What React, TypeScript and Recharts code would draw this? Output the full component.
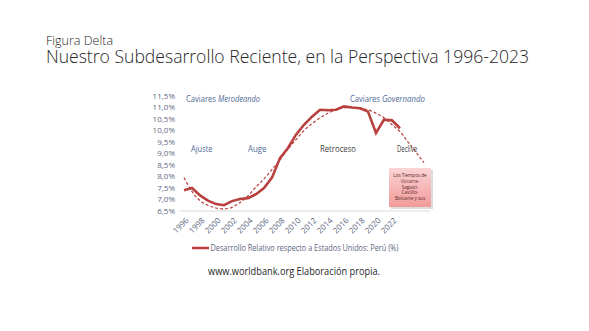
import { LineChart, Line, XAxis, YAxis } from "recharts";

// Years shown on the category axis
const years = [
  1996, 1997, 1998, 1999, 2000, 2001, 2002, 2003, 2004, 2005, 2006, 2007, 2008,
  2009, 2010, 2011, 2012, 2013, 2014, 2015, 2016, 2017, 2018, 2019, 2020, 2021,
  2022, 2023, 2024, 2025, 2026,
];

// Peru relative to US (%), 1996-2023
const peru = [
  7.4, 7.5, 7.18, 6.95, 6.8, 6.75, 6.93, 7.02, 7.06, 7.23, 7.5, 7.95, 8.8, 9.24,
  9.82, 10.25, 10.6, 10.9, 10.88, 10.9, 11.05, 11.0, 10.97, 10.82, 9.89, 10.47,
  10.44, 10.1,
];

// Polynomial trend (dashed), extended 3 years forward
const trend = [
  7.95, 7.35, 6.95, 6.75, 6.63, 6.59, 6.66, 6.87, 7.16, 7.55, 7.9, 8.3, 8.72,
  9.2, 9.6, 10.0, 10.3, 10.55, 10.75, 10.9, 10.98, 11.0, 10.98, 10.9, 10.75,
  10.55, 10.25, 9.95, 9.5, 9.05, 8.6,
];

const xTicks = [1996, 1998, 2000, 2002, 2004, 2006, 2008, 2010, 2012, 2014, 2016, 2018, 2020, 2022];
const yTicks = [6.5, 7, 7.5, 8, 8.5, 9, 9.5, 10, 10.5, 11, 11.5];

const boxLines = ["Los Tiempos de", "Vizcarra-", "Sagasti-", "Castillo-", "Boluarte y sus"];

const RED = "#b8403e";
const FONT = "'Open Sans', 'Liberation Sans', sans-serif";

const data = years.map((year, i) => ({
  year,
  peru: i < peru.length ? peru[i] : null,
  trend: trend[i],
}));

const fmtPct = (v: number) => v.toFixed(1).replace(".", ",") + "%";

const XTick = (props: any) => {
  const { x, y, payload } = props;
  return (
    <g transform={`translate(${x + 3},${y})`}>
      <text
        textAnchor="end"
        transform="rotate(-45)"
        fontSize={8}
        fill="#5d6680"
        fontFamily={FONT}
        dy={3}
      >
        {payload.value}
      </text>
    </g>
  );
};

export default function App() {
  return (
    <div style={{ position: "fixed", left: 0, top: 0, width: 589, height: 331, background: "#fff" }}>
      <LineChart
        width={589}
        height={331}
        data={data}
        margin={{ top: 96, right: 159, left: 140, bottom: 90 }}
      >
        <XAxis
          dataKey="year"
          type="number"
          domain={[1995.5, 2026.75]}
          ticks={xTicks}
          interval={0}
          axisLine={{ stroke: "#d9d9d9" }}
          tickLine={false}
          tick={<XTick />}
          height={30}
        />
        <YAxis
          type="number"
          domain={[6.5, 11.5]}
          ticks={yTicks}
          interval={0}
          axisLine={false}
          tickLine={false}
          tickSize={3}
          tickMargin={2}
          width={40}
          tickFormatter={fmtPct}
          tick={{ fontSize: 8, fill: "#5d6680", fontFamily: FONT }}
        />
        <Line
          dataKey="trend"
          stroke={RED}
          strokeWidth={1.2}
          strokeDasharray="3 2"
          dot={false}
          type="monotone"
          isAnimationActive={false}
        />
        <Line
          dataKey="peru"
          stroke={RED}
          strokeWidth={2.6}
          dot={false}
          type="linear"
          connectNulls={false}
          isAnimationActive={false}
        />
      </LineChart>

      <svg
        width={589}
        height={331}
        style={{ position: "absolute", left: 0, top: 0, pointerEvents: "none" }}
        fontFamily={FONT}
      >
        <defs>
          <linearGradient id="pinkBox" x1="0" y1="0" x2="0" y2="1">
            <stop offset="0%" stopColor="#fbd4d4" />
            <stop offset="100%" stopColor="#f29a9a" />
          </linearGradient>
        </defs>

        <text x={46} y={44.5} fontSize={13} fontWeight={300} fill="#262626" textLength={67} lengthAdjust="spacingAndGlyphs">
          Figura Delta
        </text>
        <text x={46} y={63} fontSize={17.5} fontWeight={300} fill="#262626" textLength={483} lengthAdjust="spacingAndGlyphs">
          Nuestro Subdesarrollo Reciente, en la Perspectiva 1996-2023
        </text>

        <text x={186} y={102} fontSize={9} fill="#4f6a96">
          <tspan textLength={30} lengthAdjust="spacingAndGlyphs">Caviares</tspan>
          <tspan x={218} fontStyle="italic" textLength={42} lengthAdjust="spacingAndGlyphs">Merodeando</tspan>
        </text>
        <text x={350} y={102} fontSize={9} fill="#4f6a96">
          <tspan textLength={30} lengthAdjust="spacingAndGlyphs">Caviares</tspan>
          <tspan x={382} fontStyle="italic" textLength={43} lengthAdjust="spacingAndGlyphs">Governando</tspan>
        </text>

        <text x={191} y={152} fontSize={9.5} fill="#4f6a96" textLength={21.5} lengthAdjust="spacingAndGlyphs">Ajuste</text>
        <text x={248} y={152} fontSize={9.5} fill="#4f6a96" textLength={18.5} lengthAdjust="spacingAndGlyphs">Auge</text>
        <text x={320} y={152} fontSize={9.5} fill="#404040" textLength={36} lengthAdjust="spacingAndGlyphs">Retroceso</text>
        <text x={397} y={152} fontSize={9.5} fill="#404040" textLength={20} lengthAdjust="spacingAndGlyphs">Declive</text>

        <rect x={391} y={170} width={42} height={39} fill="#bbbbbb" opacity={0.5} />
        <rect x={389} y={168} width={42} height={39} fill="url(#pinkBox)" />
        {boxLines.map((t, i) => (
          <text key={t} x={410} y={177 + i * 5.8} fontSize={4.6} fill="#5a2a2a" textAnchor="middle">
            {t}
          </text>
        ))}

        <line x1={192} y1={248} x2={209} y2={248} stroke={RED} strokeWidth={2.6} />
        <text x={210.5} y={251} fontSize={8.5} fill="#5d6680" textLength={188} lengthAdjust="spacingAndGlyphs">
          Desarrollo Relativo respecto a Estados Unidos: Perú (%)
        </text>

        <text x={208} y={275} fontSize={10} fill="#262626" textLength={172} lengthAdjust="spacingAndGlyphs">
          www.worldbank.org Elaboración propia.
        </text>
      </svg>
    </div>
  );
}
